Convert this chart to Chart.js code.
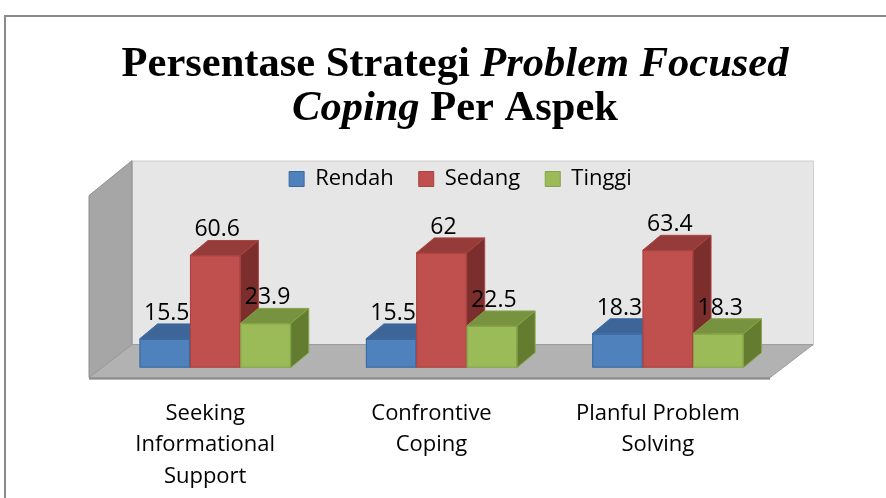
<!DOCTYPE html>
<html>
<head>
<meta charset="utf-8">
<script src="https://cdn.jsdelivr.net/npm/chart.js@4.4.1/dist/chart.umd.min.js"></script>
<style>
html, body { margin: 0; padding: 0; background: #fff; }
canvas { display: block; }
</style>
</head>
<body>
<canvas id="chart" width="886" height="498"></canvas>
<script>
// data
const categories = [['Seeking', 'Informational', 'Support'], ['Confrontive', 'Coping'], ['Planful Problem', 'Solving']];
const seriesNames = ['Rendah', 'Sedang', 'Tinggi'];
const rendah = [15.5, 15.5, 18.3];
const sedang = [60.6, 62, 63.4];
const tinggi = [23.9, 22.5, 18.3];
// title, italic parts flagged with true
const titleLines = [
    [['Persentase Strategi ', false], ['Problem Focused', true]],
    [['Coping', true], [' Per Aspek', false]]
];

const faceColors = [
    { front: '#4f81bd', top: '#3d6597', side: '#335584', edge: '#3b6aa1' },
    { front: '#c0504d', top: '#953c3a', side: '#7c2e2c', edge: '#aa4341' },
    { front: '#9bbb59', top: '#789340', side: '#637c30', edge: '#86a448' }
];
const depth = { x: 18, y: 15 };

function poly(ctx, pts, fill, stroke) {
    ctx.beginPath();
    ctx.moveTo(pts[0][0], pts[0][1]);
    for (let k = 1; k < pts.length; k++) ctx.lineTo(pts[k][0], pts[k][1]);
    ctx.closePath();
    ctx.fillStyle = fill;
    ctx.fill();
    if (stroke) {
        ctx.strokeStyle = stroke;
        ctx.lineWidth = 1;
        ctx.stroke();
    }
}

// walls, floor, 3d bars and title
const scene3d = {
    id: 'scene3d',
    afterLayout(chart) {
        // legend sits a little right of centre in the original
        chart.legend.left += 19;
        chart.legend.right += 19;
        chart.legend.top -= 2;
        chart.legend.bottom -= 2;
    },
    beforeDraw(chart) {
        const ctx = chart.ctx;
        const a = chart.chartArea;
        const base = chart.scales.y.getPixelForValue(0);
        ctx.save();
        ctx.fillStyle = '#fff';
        ctx.fillRect(0, 0, chart.width, chart.height);
        ctx.strokeStyle = '#8a8a8a';
        ctx.lineWidth = 2;
        ctx.strokeRect(5, 16, chart.width + 10, chart.height + 10);

        const fy = base + 10, by = base - 23;
        const fl = a.left - 13, bl = a.left + 30;
        const fr = a.right - 11, br = a.right + 32;
        const top = base - 207;
        // back wall
        ctx.fillStyle = '#e6e6e6';
        ctx.fillRect(bl, top, br - bl, by - top);
        ctx.strokeStyle = '#d0d0d0';
        ctx.lineWidth = 1;
        ctx.strokeRect(bl + 0.5, top + 0.5, br - bl, by - top);
        // side wall
        poly(ctx, [[fl, fy], [fl, top + 35], [bl, top], [bl, by]], '#a6a6a6', '#8f8f8f');
        // floor
        poly(ctx, [[fl, fy], [bl, by], [br, by], [fr, fy]], '#b2b2b2', '#999');
        ctx.fillStyle = '#8c8c8c';
        ctx.fillRect(fl, fy, fr - fl, 2);
        ctx.restore();
    },
    afterDatasetsDraw(chart) {
        const ctx = chart.ctx;
        const metas = seriesNames.map((s, i) => chart.getDatasetMeta(i));
        ctx.save();
        for (let j = 0; j < categories.length; j++) {
            metas.forEach((meta, i) => {
                const p = meta.data[j].getProps(['x', 'y', 'base', 'width'], true);
                const l = p.x - p.width / 2, r = p.x + p.width / 2;
                const c = faceColors[i];
                ctx.fillStyle = c.front;
                ctx.fillRect(l, p.y, p.width, p.base - p.y);
                ctx.strokeStyle = c.edge;
                ctx.lineWidth = 1;
                ctx.strokeRect(l + 0.5, p.y + 0.5, p.width - 1, p.base - p.y - 1);
                poly(ctx, [[l, p.y], [l + depth.x, p.y - depth.y], [r + depth.x, p.y - depth.y], [r, p.y]], c.top, c.edge);
                poly(ctx, [[r, p.y], [r + depth.x, p.y - depth.y], [r + depth.x, p.base - depth.y], [r, p.base]], c.side, c.edge);
            });
        }
        // value labels
        ctx.font = '23px "Open Sans"';
        ctx.fillStyle = '#000';
        ctx.textAlign = 'center';
        ctx.textBaseline = 'alphabetic';
        metas.forEach((meta, i) => {
            meta.data.forEach((el, j) => {
                const v = chart.data.datasets[i].data[j];
                ctx.fillText(String(v), el.x + 2, el.y - depth.y - 4);
            });
        });
        ctx.restore();
    },
    afterDraw(chart) {
        const ctx = chart.ctx;
        const cx = 455, baselines = [76, 120];
        const fontFor = it => (it ? 'italic ' : '') + '700 42.5px "Liberation Serif"';
        ctx.save();
        ctx.fillStyle = '#000';
        ctx.textBaseline = 'alphabetic';
        ctx.textAlign = 'left';
        titleLines.forEach((line, n) => {
            let w = 0;
            line.forEach(([t, it]) => { ctx.font = fontFor(it); w += ctx.measureText(t).width; });
            let x = cx - w / 2;
            line.forEach(([t, it]) => {
                ctx.font = fontFor(it);
                ctx.fillText(t, x, baselines[n]);
                x += ctx.measureText(t).width;
            });
        });
        ctx.restore();
    }
};

Chart.defaults.font.family = '"Open Sans", sans-serif';
Chart.defaults.color = '#000';

const values = [rendah, sedang, tinggi];
const ctx = document.getElementById('chart').getContext('2d');

const chart = new Chart(ctx, {
    type: 'bar',
    data: {
        labels: categories,
        datasets: seriesNames.map((name, i) => ({
            label: name,
            data: values[i],
            backgroundColor: faceColors[i].front,
            borderColor: faceColors[i].edge,
            borderWidth: 1
        }))
    },
    options: {
        responsive: false,
        animation: false,
        devicePixelRatio: 1,
        datasets: {
            bar: { categoryPercentage: 0.668, barPercentage: 1 }
        },
        layout: {
            padding: { left: 102, right: 105, top: 145, bottom: -24 }
        },
        scales: {
            x: {
                grid: { display: false, drawTicks: false },
                border: { display: false },
                ticks: {
                    padding: 30,
                    labelOffset: -10,
                    font: { size: 22, lineHeight: 1.43 },
                    color: '#000'
                }
            },
            y: {
                display: false,
                min: 0,
                max: 89.5
            }
        },
        plugins: {
            title: { display: false },
            tooltip: { enabled: false },
            legend: {
                position: 'top',
                labels: {
                    boxWidth: 15,
                    boxHeight: 15,
                    padding: 25,
                    color: '#000',
                    font: { size: 22 }
                }
            }
        }
    },
    plugins: [scene3d]
});
</script>
</body>
</html>
